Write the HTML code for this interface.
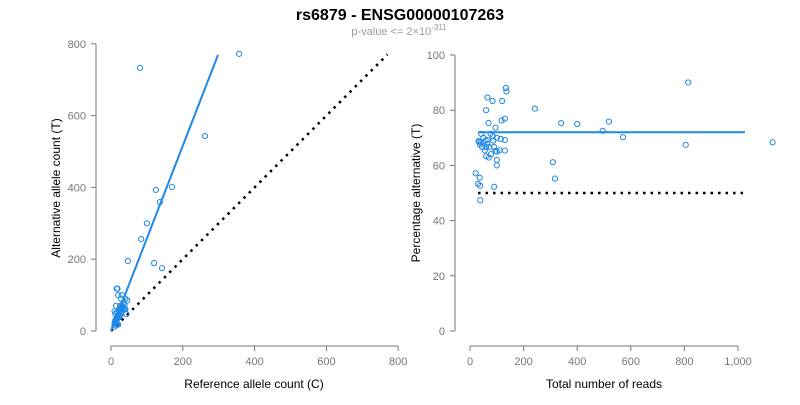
<!DOCTYPE html>
<html><head><meta charset="utf-8"><style>
body{margin:0;background:#fff;font-family:"Liberation Sans",sans-serif}
svg text{font-family:"Liberation Sans",sans-serif}
</style></head><body>
<svg id="c" width="800" height="400">
<text x="400" y="20" text-anchor="middle" font-size="16" font-weight="bold">rs6879 - ENSG00000107263</text>
<text x="399" y="35" text-anchor="middle" font-size="11" fill="#999">p-value &lt;= 2×10<tspan dy="-5" font-size="8">-311</tspan></text>
<g id="L"></g><g id="R"></g>
</svg>
<script>
const refCounts=[81,357,262,170,125,136,100,84,120,142,47,43,38,15,20,12,18,25,30,22,16,20,18,14,28,35,40,24,17,12,10,14,20,18,25,30,35,40,15,20,22,26,12,10,33,38,45,30,28,16,11,13,9,19,21,27];
const altCounts=[733,772,543,401,393,359,300,256,189,175,195,47,62,30,45,25,40,60,70,55,20,18,20,16,50,80,90,48,52,48,55,70,100,118,70,60,65,60,35,40,38,44,30,22,62,72,85,100,90,118,24,28,12,36,44,60];
const leftTicks=[0,200,400,600,800];
const rightXTicks=[0,200,400,600,800,1000];
const rightXLabels=["0","200","400","600","800","1,000"];
const rightYTicks=[0,20,40,60,80,100];
const fitSlope=2.58, fitRefMax=298, diagMax=770;
const fitPct=72, fitTotMin=30, fitTotMax=1026, nullPct=50;

const NS="http://www.w3.org/2000/svg";
function mk(p,t,a){const e=document.createElementNS(NS,t);for(const k in a)e.setAttribute(k,a[k]);p.appendChild(e);return e;}
const L=document.getElementById('L'),R=document.getElementById('R');
const lx=v=>111+v*0.359, ly=v=>331-v*0.359;
const rx=v=>470+v*0.268, ry=v=>331-v*2.76;
// left axes
let e=mk(L,'line',{x1:111,x2:398,y1:346,y2:346,stroke:'#777'});

e=mk(L,'line',{x1:96,x2:96,y1:ly(0),y2:ly(800),stroke:'#777'});

leftTicks.forEach(t=>{
 mk(L,'line',{x1:lx(t),x2:lx(t),y1:346,y2:351,stroke:'#777'});
 e=mk(L,'text',{x:lx(t),y:365,'text-anchor':'middle','font-size':11,fill:'#777'});e.textContent=t;
 
 mk(L,'line',{x1:91,x2:96,y1:ly(t),y2:ly(t),stroke:'#777'});
 e=mk(L,'text',{x:86,y:ly(t)+4,'text-anchor':'end','font-size':11,fill:'#777'});e.textContent=t;
 
});
e=mk(L,'text',{x:254,y:388,'text-anchor':'middle','font-size':12});e.textContent='Reference allele count (C)';

e=mk(L,'text',{x:0,y:0,'text-anchor':'middle','font-size':12,transform:'translate(60,188) rotate(-90)'});e.textContent='Alternative allele count (T)';

e=mk(L,'line',{x1:lx(0),y1:ly(0),x2:lx(diagMax),y2:ly(diagMax),stroke:'#000','stroke-width':2.5,'stroke-dasharray':'2.5,5'});

e=mk(L,'line',{x1:lx(0),y1:ly(0),x2:lx(fitRefMax),y2:ly(fitRefMax*fitSlope),stroke:'#1e88e5','stroke-width':2});

refCounts.forEach((r,i)=>{
 e=mk(L,'circle',{cx:lx(r),cy:ly(altCounts[i]),r:2.6,fill:'none',stroke:'#1e88e5','stroke-width':1});
 
});
// right axes
e=mk(R,'line',{x1:rx(0),x2:rx(1000),y1:346,y2:346,stroke:'#777'});

e=mk(R,'line',{x1:455,x2:455,y1:ry(0),y2:ry(100),stroke:'#777'});

rightXTicks.forEach((t,i)=>{
 mk(R,'line',{x1:rx(t),x2:rx(t),y1:346,y2:351,stroke:'#777'});
 e=mk(R,'text',{x:rx(t),y:365,'text-anchor':'middle','font-size':11,fill:'#777'});e.textContent=rightXLabels[i];
 
});
rightYTicks.forEach(t=>{
 mk(R,'line',{x1:450,x2:455,y1:ry(t),y2:ry(t),stroke:'#777'});
 e=mk(R,'text',{x:445,y:ry(t)+4,'text-anchor':'end','font-size':11,fill:'#777'});e.textContent=t;
 
});
e=mk(R,'text',{x:604,y:388,'text-anchor':'middle','font-size':12});e.textContent='Total number of reads';

e=mk(R,'text',{x:0,y:0,'text-anchor':'middle','font-size':12,transform:'translate(420,193) rotate(-90)'});e.textContent='Percentage alternative (T)';

e=mk(R,'line',{x1:rx(fitTotMin),y1:ry(nullPct),x2:rx(fitTotMax),y2:ry(nullPct),stroke:'#000','stroke-width':2.5,'stroke-dasharray':'2.5,5'});

e=mk(R,'line',{x1:rx(fitTotMin),y1:ry(fitPct),x2:rx(fitTotMax),y2:ry(fitPct),stroke:'#1e88e5','stroke-width':2});

refCounts.forEach((r,i)=>{
 const tot=r+altCounts[i],p=altCounts[i]/tot*100;
 e=mk(R,'circle',{cx:rx(tot),cy:ry(p),r:2.6,fill:'none',stroke:'#1e88e5','stroke-width':1});
 
});
</script>
</body></html>
